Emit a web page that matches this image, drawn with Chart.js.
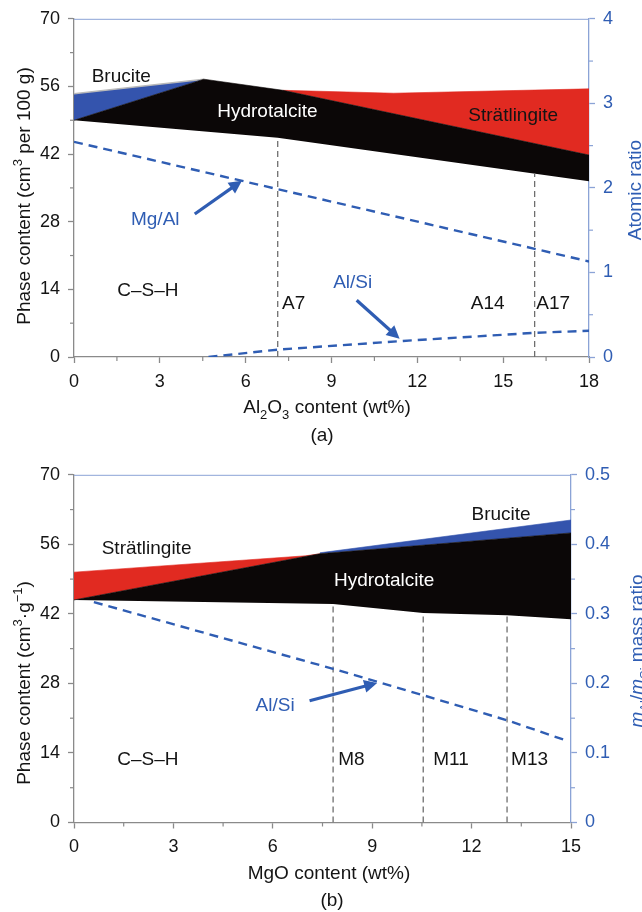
<!DOCTYPE html>
<html><head><meta charset="utf-8">
<script src="https://cdn.jsdelivr.net/npm/chart.js@4.4.1/dist/chart.umd.min.js"></script>
<style>
html,body{margin:0;padding:0;background:#fff;}
#wrap{position:relative;width:642px;height:912px;overflow:hidden;background:#fff}
canvas{position:absolute;left:0}
#ca{top:0}
#cb{top:456px}
</style></head><body>
<div id="wrap"><canvas id="ca" width="642" height="456"></canvas><canvas id="cb" width="642" height="456"></canvas></div>
<script>
// ================= Panel (a) data : Al2O3 series =================
const aXTicks = [0, 3, 6, 9, 12, 15, 18];
const aYTicks = [0, 14, 28, 42, 56, 70];
const aY2Ticks = [0, 1, 2, 3, 4];
const aHtBottomX = [0, 7.12, 18];           // C-S-H / hydrotalcite boundary
const aHtBottomY = [49.0, 45.4, 36.4];
const aHtTopX = [0, 4.54, 7.3, 18];          // hydrotalcite upper boundary
const aHtTopY = [49.0, 57.5, 55.2, 41.8];
const aBrTopX = [0, 4.54];                   // brucite upper boundary
const aBrTopY = [54.5, 57.5];
const aStTopX = [7.3, 11.17, 18];            // strätlingite upper boundary
const aStTopY = [55.2, 54.6, 55.5];
const aMgAlX = [0, 18];                      // Mg/Al atomic ratio (right axis)
const aMgAlY = [2.545, 1.13];
const aAlSiX = [4.7, 7.12, 11.5, 16.1, 18];  // Al/Si atomic ratio (right axis)
const aAlSiY = [0, 0.087, 0.19, 0.286, 0.31];
const aSampleX = [7.12, 16.1];               // A7, A17 guide lines
const aSampleTopY = [45.4, 38.0];
const aLabels = ['Brucite', 'Hydrotalcite', 'Strätlingite', 'Mg/Al', 'Al/Si', 'C–S–H', 'A7', 'A14', 'A17'];
const aLabelX = [1.65, 6.76, 15.35, 2.84, 9.74, 2.58, 7.68, 14.46, 16.75];
const aLabelY = [57.9, 50.7, 50.0, 28.5, 15.4, 13.8, 11.1, 11.1, 11.1];
const aArrowFromX = [4.22, 9.88];
const aArrowFromY = [29.6, 11.75];
const aArrowToX = [5.87, 11.38];
const aArrowToY = [36.5, 3.77];

// ================= Panel (b) data : MgO series =================
const bXTicks = [0, 3, 6, 9, 12, 15];
const bYTicks = [0, 14, 28, 42, 56, 70];
const bY2Ticks = [0, 0.1, 0.2, 0.3, 0.4, 0.5];
const bHtBottomX = [0, 7.82, 10.54, 13.07, 15];
const bHtBottomY = [44.8, 44.0, 42.2, 41.7, 40.9];
const bHtTopX = [0, 7.42, 15];
const bHtTopY = [44.8, 54.1, 58.3];
const bBrTopX = [7.42, 15];
const bBrTopY = [54.3, 60.9];
const bStTopX = [0, 7.0, 7.42];
const bStTopY = [50.4, 53.7, 54.1];
const bAlSiX = [0.6, 7.82, 10.54, 13.07, 14.85];   // mAl/mSi mass ratio (right axis)
const bAlSiY = [0.317, 0.221, 0.183, 0.147, 0.118];
const bSampleX = [7.82, 10.54, 13.07];             // M8, M11, M13 guide lines
const bSampleTopY = [44.0, 42.2, 41.7];
const bLabels = ['Strätlingite', 'Brucite', 'Hydrotalcite', 'Al/Si', 'C–S–H', 'M8', 'M11', 'M13'];
const bLabelX = [2.19, 12.89, 9.36, 6.07, 2.23, 8.37, 11.38, 13.75];
const bLabelY = [55.1, 61.96, 48.7, 23.6, 12.55, 12.55, 12.55, 12.55];
const bArrowFromX = [7.11];
const bArrowFromY = [24.5];
const bArrowToX = [9.15];
const bArrowToY = [28.1];

// ================= styling =================
const FONT = "'Liberation Sans', Arial, Helvetica, sans-serif";
const BLACK_FILL = '#0b0707';
const BLUE_FILL = '#3454ad';
const RED_FILL = '#e12a21';
const BLUE = '#2f5db3';
const BLUE_AXIS = '#8ba3d6';
const GREY_AXIS = '#8a8a8a';
const TXT = '#141414';
const FS = 19;

const pts = (xs, ys) => xs.map((x, i) => ({x: x, y: ys[i]}));

function area(lower, upper, color, edge) {
  return [
    {data: lower, borderWidth: 0, pointRadius: 0, fill: false, order: 10, yAxisID: 'y'},
    {data: upper, borderWidth: edge ? 1.5 : 0.6, borderColor: edge || color, backgroundColor: color,
     pointRadius: 0, fill: '-1', order: 10, yAxisID: 'y'}
  ];
}
function dashed(data, axis) {
  return {data: data, borderColor: BLUE, borderWidth: 2.4, borderDash: [9, 6], pointRadius: 0,
          fill: false, order: 1, yAxisID: axis};
}
function guides(xs, tops) {
  return xs.map((x, i) => ({data: [{x: x, y: 0}, {x: x, y: tops[i]}], borderColor: '#6e6e6e',
    borderWidth: 1.3, borderDash: [6, 4], pointRadius: 0, fill: false, order: 2, yAxisID: 'y'}));
}

function scales(xTicks, yTicks, y2Ticks, dims) {
  const tickFont = {family: FONT, size: 18};
  const mk = (ticksArr, color, axisColor, fitFn, extra) => Object.assign({
    type: 'linear', min: ticksArr[0], max: ticksArr[ticksArr.length - 1],
    afterBuildTicks: s => { s.ticks = ticksArr.map(v => ({value: v})); },
    ticks: {font: tickFont, color: color, padding: 8, autoSkip: false, maxRotation: 0,
            callback: v => String(v)},
    grid: {display: true, drawOnChartArea: false, drawTicks: true, tickLength: 6,
           tickColor: axisColor, tickWidth: 1.3},
    border: {display: true, color: axisColor, width: 1.3},
    afterFit: fitFn
  }, extra);
  return {
    x: mk(xTicks, TXT, GREY_AXIS, s => { s.height = dims.xH; }, {position: 'bottom'}),
    y: mk(yTicks, TXT, GREY_AXIS, s => { s.width = dims.yW; }, {position: 'left'}),
    y2: mk(y2Ticks, BLUE, BLUE_AXIS, s => { s.width = dims.y2W; }, {position: 'right'})
  };
}

function drawRich(ctx, runs, x, y, rot, color, size) {
  ctx.save();
  ctx.translate(x, y);
  ctx.rotate(rot);
  ctx.fillStyle = color;
  ctx.textBaseline = 'alphabetic';
  ctx.textAlign = 'left';
  const f = r => (r.italic ? 'italic ' : '') + ((r.sub || r.sup) ? Math.round(size * 0.68) : size) + 'px ' + FONT;
  let w = 0;
  runs.forEach(r => { ctx.font = f(r); w += ctx.measureText(r.t).width; });
  let cx = -w / 2;
  runs.forEach(r => {
    ctx.font = f(r);
    const dy = r.sub ? size * 0.3 : (r.sup ? -size * 0.4 : 0);
    ctx.fillText(r.t, cx, dy);
    cx += ctx.measureText(r.t).width;
  });
  ctx.restore();
}

function arrow(ctx, x1, y1, x2, y2) {
  const ang = Math.atan2(y2 - y1, x2 - x1);
  const hl = 13, hw = 6.5;
  const bx = x2 - hl * Math.cos(ang), by = y2 - hl * Math.sin(ang);
  ctx.save();
  ctx.strokeStyle = BLUE; ctx.fillStyle = BLUE; ctx.lineWidth = 3.2; ctx.lineCap = 'butt';
  ctx.beginPath(); ctx.moveTo(x1, y1); ctx.lineTo(bx + Math.cos(ang), by + Math.sin(ang)); ctx.stroke();
  ctx.beginPath();
  ctx.moveTo(x2, y2);
  ctx.lineTo(bx + hw * Math.sin(ang), by - hw * Math.cos(ang));
  ctx.lineTo(bx - hw * Math.sin(ang), by + hw * Math.cos(ang));
  ctx.closePath(); ctx.fill();
  ctx.restore();
}

function decorPlugin(cfg) {
  return {
    id: 'decor' + cfg.name,
    afterDraw(chart) {
      const ctx = chart.ctx, ca = chart.chartArea;
      const sx = chart.scales.x, sy = chart.scales.y, sy2 = chart.scales.y2;
      ctx.save();
      // top frame line
      ctx.strokeStyle = BLUE_AXIS; ctx.lineWidth = 1;
      ctx.beginPath(); ctx.moveTo(ca.left, ca.top + 0.5); ctx.lineTo(ca.right, ca.top + 0.5); ctx.stroke();
      // minor ticks (midpoints between major ticks)
      const mids = a => a.slice(1).map((v, i) => (v + a[i]) / 2);
      ctx.lineWidth = 1.2;
      ctx.strokeStyle = GREY_AXIS;
      mids(cfg.xTicks).forEach(v => { const p = sx.getPixelForValue(v); ctx.beginPath(); ctx.moveTo(p, ca.bottom); ctx.lineTo(p, ca.bottom + 4); ctx.stroke(); });
      mids(cfg.yTicks).forEach(v => { const p = sy.getPixelForValue(v); ctx.beginPath(); ctx.moveTo(ca.left - 4, p); ctx.lineTo(ca.left, p); ctx.stroke(); });
      ctx.strokeStyle = BLUE_AXIS;
      mids(cfg.y2Ticks).forEach(v => { const p = sy2.getPixelForValue(v); ctx.beginPath(); ctx.moveTo(ca.right, p); ctx.lineTo(ca.right + 4, p); ctx.stroke(); });
      // in-plot labels
      ctx.textAlign = 'center'; ctx.textBaseline = 'middle';
      ctx.font = FS + 'px ' + FONT;
      cfg.labels.forEach((t, i) => {
        ctx.fillStyle = t === 'Hydrotalcite' ? '#ffffff' : ((t === 'Mg/Al' || t === 'Al/Si') ? BLUE : TXT);
        ctx.fillText(t, sx.getPixelForValue(cfg.lx[i]), sy.getPixelForValue(cfg.ly[i]));
      });
      // arrows
      cfg.ax1.forEach((v, i) => arrow(ctx, sx.getPixelForValue(v), sy.getPixelForValue(cfg.ay1[i]),
                                        sx.getPixelForValue(cfg.ax2[i]), sy.getPixelForValue(cfg.ay2[i])));
      // axis titles and caption
      cfg.titles.forEach(tt => drawRich(ctx, tt.runs, tt.x, tt.y, tt.rot || 0, tt.color || TXT, FS));
      ctx.restore();
    }
  };
}

function build(id, spec) {
  const datasets = [].concat(
    area(pts(spec.htBottomX, spec.htBottomY), pts(spec.htTopX, spec.htTopY), BLACK_FILL),
    area(pts(spec.htTopX, spec.htTopY).filter(p => p.x >= spec.brTopX[0] && p.x <= spec.brTopX[spec.brTopX.length - 1]),
         pts(spec.brTopX, spec.brTopY), BLUE_FILL, spec.brEdge),
    area(pts(spec.htTopX, spec.htTopY).filter(p => p.x >= spec.stTopX[0] && p.x <= spec.stTopX[spec.stTopX.length - 1]),
         pts(spec.stTopX, spec.stTopY), RED_FILL),
    spec.lines.map(l => dashed(l, 'y2')),
    guides(spec.sampleX, spec.sampleTopY)
  );
  return new Chart(document.getElementById(id), {
    type: 'line',
    data: {datasets: datasets},
    options: {
      responsive: false, animation: false, devicePixelRatio: 1, events: [],
      layout: {padding: {top: spec.dims.top, left: 0, right: 0, bottom: 0}},
      plugins: {legend: {display: false}, tooltip: {enabled: false}},
      elements: {line: {tension: 0}},
      scales: scales(spec.xTicks, spec.yTicks, spec.y2Ticks, spec.dims)
    },
    plugins: [decorPlugin(spec.decor)]
  });
}

build('ca', {
  xTicks: aXTicks, yTicks: aYTicks, y2Ticks: aY2Ticks,
  htBottomX: aHtBottomX, htBottomY: aHtBottomY, htTopX: aHtTopX, htTopY: aHtTopY,
  brTopX: aBrTopX, brTopY: aBrTopY, brEdge: '#b9b9b9', stTopX: aStTopX, stTopY: aStTopY,
  lines: [pts(aMgAlX, aMgAlY), pts(aAlSiX, aAlSiY)],
  sampleX: aSampleX, sampleTopY: aSampleTopY,
  dims: {top: 15, xH: 99, yW: 74, y2W: 53},
  decor: {name: 'a', xTicks: aXTicks, yTicks: aYTicks, y2Ticks: aY2Ticks,
    labels: aLabels, lx: aLabelX, ly: aLabelY,
    ax1: aArrowFromX, ay1: aArrowFromY, ax2: aArrowToX, ay2: aArrowToY,
    titles: [
      {runs: [{t: 'Phase content (cm'}, {t: '3', sup: 1}, {t: ' per 100 g)'}], x: 30, y: 196, rot: -Math.PI / 2},
      {runs: [{t: 'Atomic ratio'}], x: 641, y: 190, rot: -Math.PI / 2, color: BLUE},
      {runs: [{t: 'Al'}, {t: '2', sub: 1}, {t: 'O'}, {t: '3', sub: 1}, {t: ' content (wt%)'}], x: 327, y: 413},
      {runs: [{t: '(a)'}], x: 322, y: 441}
    ]}
});

build('cb', {
  xTicks: bXTicks, yTicks: bYTicks, y2Ticks: bY2Ticks,
  htBottomX: bHtBottomX, htBottomY: bHtBottomY, htTopX: bHtTopX, htTopY: bHtTopY,
  brTopX: bBrTopX, brTopY: bBrTopY, brEdge: null, stTopX: bStTopX, stTopY: bStTopY,
  lines: [pts(bAlSiX, bAlSiY)],
  sampleX: bSampleX, sampleTopY: bSampleTopY,
  dims: {top: 18, xH: 89.5, yW: 74, y2W: 71},
  decor: {name: 'b', xTicks: bXTicks, yTicks: bYTicks, y2Ticks: bY2Ticks,
    labels: bLabels, lx: bLabelX, ly: bLabelY,
    ax1: bArrowFromX, ay1: bArrowFromY, ax2: bArrowToX, ay2: bArrowToY,
    titles: [
      {runs: [{t: 'Phase content (cm'}, {t: '3', sup: 1}, {t: '·g'}, {t: '−1', sup: 1}, {t: ')'}], x: 30, y: 227, rot: -Math.PI / 2},
      {runs: [{t: 'm', italic: 1}, {t: 'Al', sub: 1}, {t: '/'}, {t: 'm', italic: 1}, {t: 'Si', sub: 1}, {t: ' mass ratio'}], x: 643, y: 195, rot: -Math.PI / 2, color: BLUE},
      {runs: [{t: 'MgO content (wt%)'}], x: 329, y: 423},
      {runs: [{t: '(b)'}], x: 332, y: 450}
    ]}
});
</script>
</body></html>
